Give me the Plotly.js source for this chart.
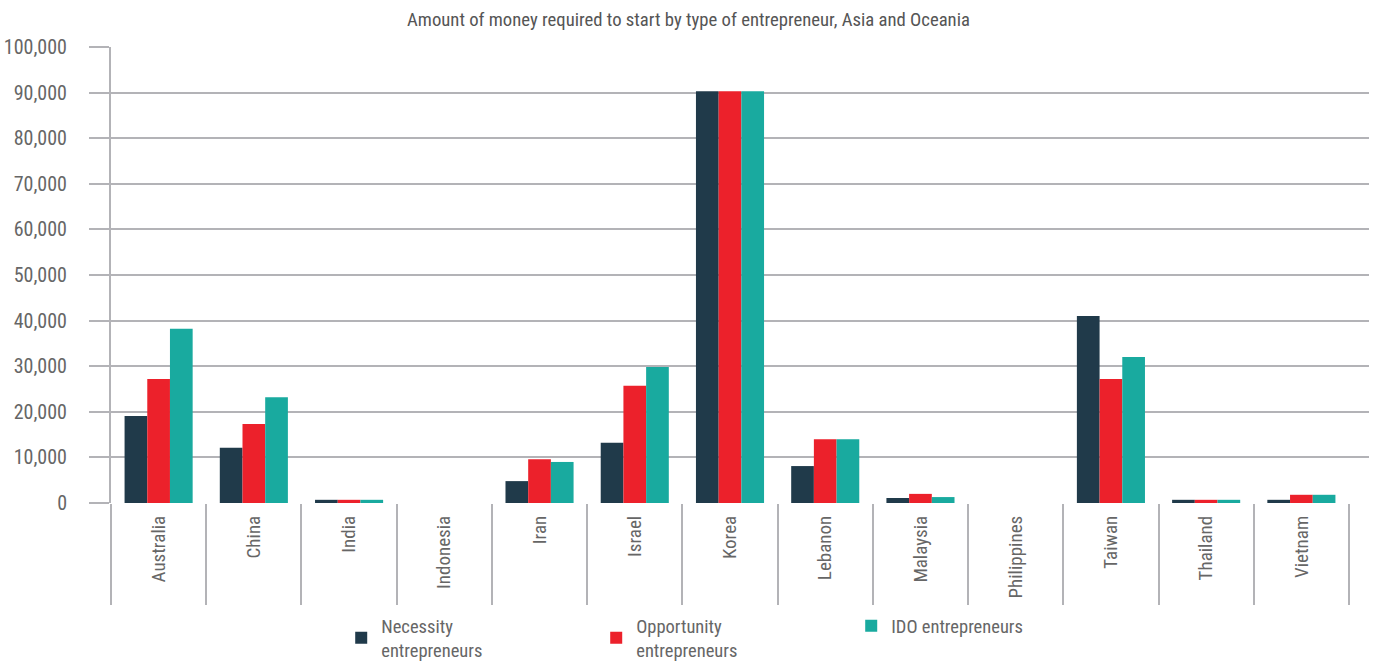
<!DOCTYPE html>
<html>
<head>
<meta charset="utf-8">
<script src="https://cdn.plot.ly/plotly-3.0.1.min.js"></script>
<style>html,body{margin:0;padding:0;background:#fff;}#chart{width:1377px;height:665px;}</style>
</head>
<body>
<div id="chart"></div>
<script>
const countries = ["Australia","China","India","Indonesia","Iran","Israel","Korea","Lebanon","Malaysia","Philippines","Taiwan","Thailand","Vietnam"];
const necessity   = [19100, 12100, 700, 0, 4800, 13200, 90300, 8100, 1100, 0, 41000, 700, 700];
const opportunity = [27200, 17300, 700, 0, 9600, 25700, 90300, 14000, 2000, 0, 27200, 700, 1800];
const ido         = [38200, 23200, 700, 0, 9000, 29800, 90300, 14000, 1300, 0, 32000, 700, 1800];
const seriesNames = ["Necessity<br>entrepreneurs", "Opportunity<br>entrepreneurs", "IDO entrepreneurs"];
const yTicks = [0,10000,20000,30000,40000,50000,60000,70000,80000,90000,100000];

const FONT = '"Roboto Condensed", "DejaVu Sans Condensed", sans-serif';
const GRID = '#b3b3b7';
const colors = ['#203a4a', '#ec212b', '#19aa9f'];
const vals = [necessity, opportunity, ido];

const traces = vals.map((v, i) => ({
  type: 'bar', x: countries, y: v, name: seriesNames[i],
  marker: {color: colors[i]}, hoverinfo: 'x+y'
}));

const layout = {
  width: 1377, height: 665,
  margin: {l: 111, r: 8, t: 47, b: 162},
  paper_bgcolor: '#fff', plot_bgcolor: '#fff',
  font: {family: FONT, color: '#666', size: 19},
  title: {text: 'Amount of money required to start by type of entrepreneur, Asia and Oceania',
          font: {family: FONT, size: 18.7, color: '#555'}, x: 0.5, xanchor: 'center',
          yref: 'container', y: 0.971, yanchor: 'middle'},
  barmode: 'group', bargap: 0.285, bargroupgap: 0,
  xaxis: {
    type: 'category', range: [-0.5, 12.71], showgrid: false, zeroline: false,
    showline: false, ticks: 'outside', tickson: 'boundaries', ticklen: 101,
    tickwidth: 2, tickcolor: GRID, tickangle: -90, ticklabelstandoff: 8,
    tickfont: {family: FONT, size: 19, color: '#666'}
  },
  yaxis: {
    range: [0, 100000], tickvals: yTicks, tickformat: ',d',
    showgrid: true, gridcolor: GRID, gridwidth: 2, zeroline: false,
    showline: true, linecolor: GRID, linewidth: 2,
    ticks: 'outside', ticklen: 20, tickwidth: 2, tickcolor: GRID,
    ticklabelstandoff: 18,
    tickfont: {family: FONT, size: 20, color: '#666'}
  },
  showlegend: true,
  legend: {orientation: 'h', x: 0.183, xanchor: 'left', yref: 'container', y: 0.087, yanchor: 'top',
           entrywidth: 210, font: {family: FONT, size: 18.5, color: '#666'},
           bgcolor: 'rgba(0,0,0,0)', traceorder: 'normal'}
};

Plotly.newPlot('chart', traces, layout, {displayModeBar: false, responsive: false});
</script>
</body>
</html>
